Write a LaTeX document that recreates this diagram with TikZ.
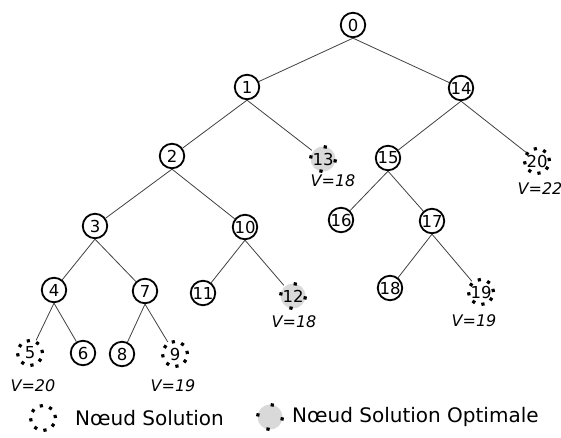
\documentclass[tikz,border=0pt]{standalone}
\usepackage{fontspec}
\setmainfont{DejaVu Sans}
\begin{document}
\begin{tikzpicture}[x=1pt,y=-1pt,
  nodefont/.style={font=\fontsize{16.5}{16.5}\selectfont},
  plain/.style={circle, draw=black, line width=1.8pt, minimum size=24.5pt, inner sep=0pt, nodefont},
  sol/.style={circle, draw=black, line width=3.2pt, minimum size=25pt, inner sep=0pt, nodefont,
              dash pattern=on 3.2pt off 6.62pt},
  opt/.style={circle, fill=black!15, draw=black, line width=3.2pt, minimum size=25pt, inner sep=0pt, nodefont,
              dash pattern=on 3.2pt off 16.43pt, dash phase=4pt},
  val/.style={font=\fontsize{16}{16}\selectfont\itshape, inner sep=0pt},
  leg/.style={font=\fontsize{20}{20}\selectfont, inner sep=0pt, anchor=west},
  edge/.style={draw=black!75, line width=0.8pt}]
\useasboundingbox (0,0) rectangle (561,437);
% nodes
\node[plain] (n0) at (353,25) {0};
\node[plain] (n1) at (247,87) {1};
\node[plain] (n14) at (461,88) {14};
\node[plain] (n2) at (172,156) {2};
\node[opt] (n13) at (323,159) {13};
\node[plain] (n15) at (388,158) {15};
\node[sol] (n20) at (537,161) {20};
\node[plain] (n3) at (95,226) {3};
\node[plain] (n10) at (245,227) {10};
\node[plain] (n16) at (341,220) {16};
\node[plain] (n17) at (432,221) {17};
\node[plain] (n4) at (54,290) {4};
\node[plain] (n7) at (145,291) {7};
\node[plain] (n11) at (203,293) {11};
\node[opt] (n12) at (293,296) {12};
\node[plain] (n18) at (390,288) {18};
\node[sol] (n19) at (481,292) {19};
\node[sol] (n5) at (30,353) {5};
\node[plain] (n6) at (83,353) {6};
\node[plain] (n8) at (122,354) {8};
\node[sol] (n9) at (175,354) {9};
% values
\node[val] (v13) at (333,181) {V=18};
\node[val] (v20) at (540,189) {V=22};
\node[val] (v12) at (294,322) {V=18};
\node[val] (v19) at (474,321) {V=19};
\node[val] (v5) at (33,386) {V=20};
\node[val] (v9) at (173,386) {V=19};
% edges
\draw[edge] (n0.south) -- (n1);
\draw[edge] (n0.south) -- (n14);
\draw[edge] (n1.south) -- (n2);
\draw[edge] (n1.south) -- (n13);
\draw[edge] (n14.south) -- (n15);
\draw[edge] (n14.south) -- (n20);
\draw[edge] (n2.south) -- (n3);
\draw[edge] (n2.south) -- (n10);
\draw[edge] (n15.south) -- (n16);
\draw[edge] (n15.south) -- (n17);
\draw[edge] (n3.south) -- (n4);
\draw[edge] (n3.south) -- (n7);
\draw[edge] (n10.south) -- (n11);
\draw[edge] (n10.south) -- (n12);
\draw[edge] (n17.south) -- (n18);
\draw[edge] (n17.south) -- (n19);
\draw[edge] (n4.south) -- (n5);
\draw[edge] (n4.south) -- (n6);
\draw[edge] (n7.south) -- (n8);
\draw[edge] (n7.south) -- (n9);
% legend
\node[sol] (ls) at (43,418) {};
\node[leg] (lst) at (75,418) {Nœud Solution};
\node[opt] (lo) at (270,417) {};
\node[leg] (lot) at (292,417) {Nœud Solution Optimale};
\end{tikzpicture}
\end{document}
